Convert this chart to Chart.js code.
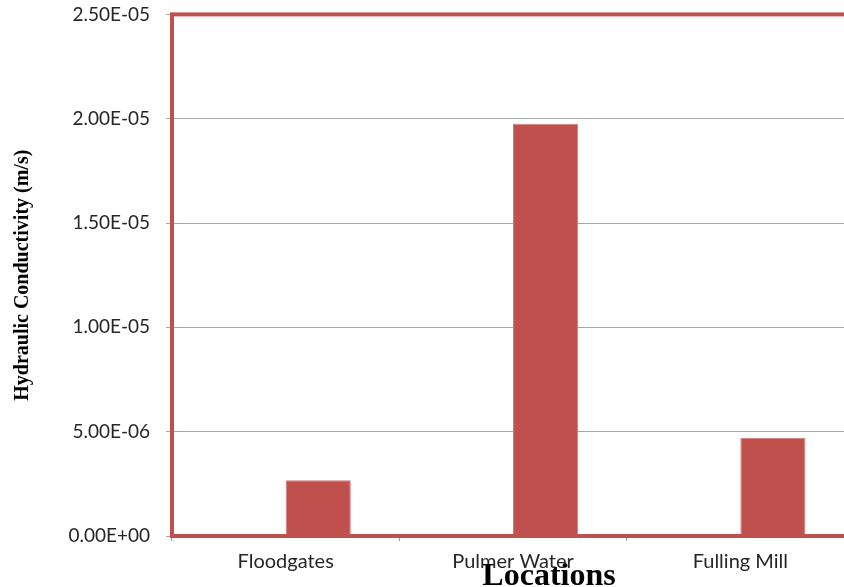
<!DOCTYPE html>
<html>
<head>
<meta charset="utf-8">
<script src="https://cdn.jsdelivr.net/npm/chart.js@4"></script>
<style>
  html, body { margin: 0; padding: 0; background: #fff; overflow: hidden; }
  #wrap { width: 844px; height: 587px; overflow: hidden; position: relative; }
  canvas { position: absolute; left: 0; top: -13px; }
</style>
</head>
<body>
<div id="wrap"><canvas id="chart" width="860" height="600"></canvas></div>
<script>
const locations = ['Floodgates', 'Pulmer Water', 'Fulling Mill'];
const conductivity = [2.67e-6, 1.976e-5, 4.71e-6];
const emptySeries = [null, null, null];
const yTicks = [0, 5e-6, 1e-5, 1.5e-5, 2e-5, 2.5e-5];

const red = '#C0504D';

// red frame round the plot area
const frame = {
  id: 'frame',
  afterDatasetsDraw(chart) {
    const { ctx, chartArea: a } = chart;
    ctx.save();
    ctx.strokeStyle = red;
    ctx.lineWidth = 4;
    ctx.strokeRect(a.left, a.top, a.right - a.left, a.bottom - a.top);
    ctx.restore();
  }
};

// x title sits a bit right of the axis centre and overlaps the labels
const xTitle = {
  id: 'xTitle',
  afterDraw(chart) {
    const { ctx, chartArea } = chart;
    ctx.save();
    ctx.font = 'bold 32px "Liberation Serif", "Times New Roman", serif';
    ctx.fillStyle = '#000';
    ctx.textAlign = 'center';
    ctx.textBaseline = 'alphabetic';
    ctx.fillText('Locations', 549, chartArea.bottom + 49);
    ctx.restore();
  }
};

new Chart(document.getElementById('chart'), {
  type: 'bar',
  data: {
    labels: locations,
    datasets: [
      { data: emptySeries, backgroundColor: red },
      {
        data: conductivity,
        backgroundColor: red,
        borderColor: '#D27C79',
        borderWidth: 1
      }
    ]
  },
  options: {
    responsive: false,
    animation: false,
    devicePixelRatio: 1,
    layout: { padding: { left: 0, top: 2, right: 6, bottom: 0 } },
    categoryPercentage: 0.573,
    barPercentage: 1,
    plugins: {
      legend: { display: false },
      tooltip: { enabled: false }
    },
    scales: {
      x: {
        grid: { display: true, drawOnChartArea: false, offset: true, color: '#9a9a9a', tickLength: 5 },
        border: { display: false },
        ticks: {
          color: '#262626',
          padding: 9,
          font: { family: 'Lato, "Open Sans", sans-serif', size: 20 }
        },
        afterFit: s => { s.height = 51; }
      },
      y: {
        min: 0,
        max: 2.5e-5,
        afterBuildTicks: s => { s.ticks = yTicks.map(v => ({ value: v })); },
        grid: { color: '#a6a6a6', tickLength: 6 },
        border: { display: false },
        ticks: {
          color: '#262626',
          padding: 16,
          font: { family: 'Lato, "Open Sans", sans-serif', size: 19 },
          callback: v => v.toExponential(2).toUpperCase().replace(/E([+-])(\d)$/, 'E$10$2')
        },
        title: {
          display: true,
          text: 'Hydraulic Conductivity (m/s)',
          color: '#000',
          padding: { top: 11, bottom: 0 },
          font: { family: '"Liberation Serif", "Times New Roman", serif', size: 20, weight: 'bold' }
        },
        afterFit: s => { s.width = 172; }
      }
    }
  },
  plugins: [frame, xTitle]
});
</script>
</body>
</html>
